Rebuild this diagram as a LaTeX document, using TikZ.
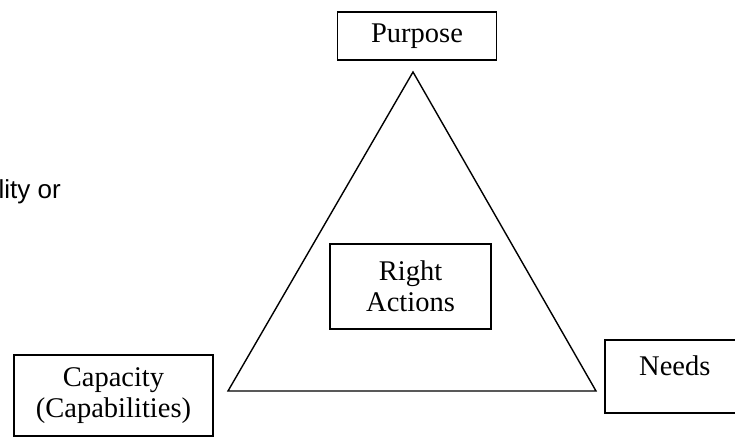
\documentclass[tikz,border=0pt]{standalone}
\usepackage{fontspec}
\setmainfont{Liberation Serif}
\newfontfamily\arialfont{Liberation Sans}
\begin{document}
\begin{tikzpicture}[x=1pt,y=-1pt,
  box/.style={draw=black,line width=1.6pt,rectangle,inner sep=0pt,align=center,
    font=\fontsize{28.5}{31}\selectfont},
  txt/.style={inner sep=0pt,font=\fontsize{28.5}{31}\selectfont},
  tri/.style={draw=black,line width=1.4pt,line join=miter}]
\useasboundingbox (0,0) rectangle (735,438);
\clip (0,0) rectangle (735,438);
\node[box,minimum width=159pt,minimum height=48pt] (purpose) at (417,36) {Purpose};
\node[box,minimum width=199pt,minimum height=81pt] (capacity) at (113.5,395.5) {Capacity\\(Capabilities)};
\node[box,minimum width=161pt,minimum height=85pt] (right) at (410.5,286.5) {Right\\Actions};
\node[box,minimum width=140pt,minimum height=73pt,anchor=north west] (needs) at (604,339) {};
\node[txt,anchor=north] (needstxt) at ([yshift=-17pt]needs.north) {Needs};
\coordinate (apex) at (413,72);
\coordinate (bl) at (228,391);
\coordinate (br) at (596,391);
\draw[tri] (apex) -- (bl) -- (br) -- cycle;
\node[inner sep=0pt,anchor=base east,font=\arialfont\fontsize{26}{28}\selectfont] (side) at (61,199) {lity or};
\end{tikzpicture}
\end{document}
